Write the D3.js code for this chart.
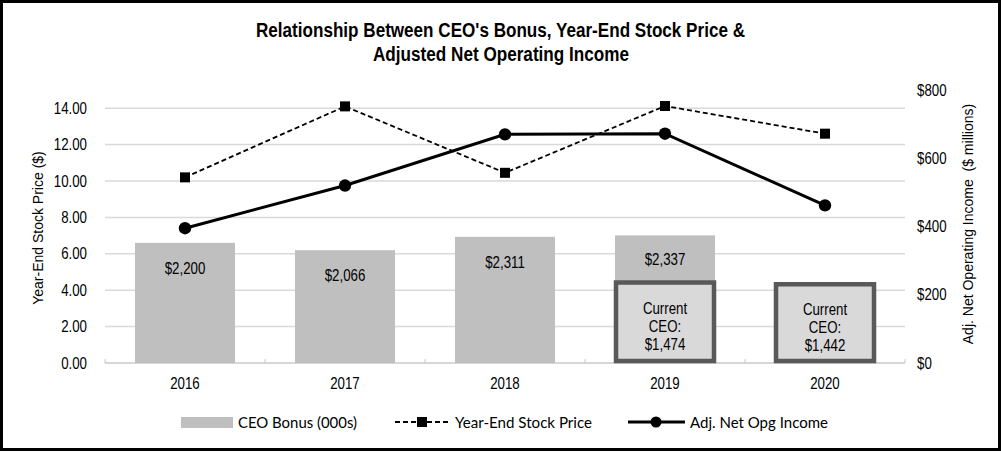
<!DOCTYPE html>
<html>
<head>
<meta charset="utf-8">
<script src="https://cdn.jsdelivr.net/npm/d3@7"></script>
<style>
body { margin: 0; background: #fff; }
text { font-family: "Liberation Sans", Arial, sans-serif; fill: #000; }
</style>
</head>
<body>
<script>
// chart data
var years = ["2016", "2017", "2018", "2019", "2020"];
var bonus = [2200, 2066, 2311, 2337, null];        // CEO bonus (000s)
var currentCeo = [null, null, null, 1474, 1442];    // current CEO bonus (000s)
var stockPrice = [10.2, 14.1, 10.45, 14.12, 12.6];  // year-end stock price ($)
var netIncome = [395, 520, 670, 672, 462];          // adj. net operating income ($M)
var leftTicks = [0, 2, 4, 6, 8, 10, 12, 14];
var rightTicks = [0, 200, 400, 600, 800];

var W = 1001, H = 452;
var SQ = 0.83; // the source text looks horizontally squeezed

var svg = d3.select("body").append("svg")
	.attr("width", W)
	.attr("height", H);

// draws text squeezed horizontally around its own x
var sqText = function(parent, x, y, str, size, anchor)
{
	return parent.append("text")
		.attr("transform", "translate(" + x + "," + y + ") scale(" + SQ + ",1)")
		.attr("text-anchor", anchor || "start")
		.style("font-size", size + "px")
		.text(str);
};

svg.append("rect")
	.attr("x", 1.5).attr("y", 1.5)
	.attr("width", W - 3).attr("height", H - 4)
	.attr("fill", "#fff")
	.attr("stroke", "#000")
	.attr("stroke-width", 3);

var x = d3.scaleBand()
	.domain(years)
	.range([105, 905])
	.paddingInner(0.375)
	.paddingOuter(0.1875);
var yLeft = d3.scaleLinear().domain([0, 15]).range([363, 90]);
var yRight = d3.scaleLinear().domain([0, 800]).range([363, 90]);
var yBonus = d3.scaleLinear().domain([0, 5000]).range([363, 90]);
var cx = function(i) { return x(years[i]) + x.bandwidth() / 2; };

// title
var title = svg.append("g");
title.append("text")
	.attr("x", 256).attr("y", 37)
	.attr("textLength", 489)
	.attr("lengthAdjust", "spacingAndGlyphs")
	.style("font-size", "19.5px")
	.style("font-weight", "bold")
	.text("Relationship Between CEO's Bonus, Year-End Stock Price &");
title.append("text")
	.attr("x", 373).attr("y", 61)
	.attr("textLength", 256)
	.attr("lengthAdjust", "spacingAndGlyphs")
	.style("font-size", "19.5px")
	.style("font-weight", "bold")
	.text("Adjusted Net Operating Income");

// gridlines
svg.append("g")
	.selectAll("line")
	.data(leftTicks.slice(1))
	.enter().append("line")
	.attr("x1", 105).attr("x2", 905)
	.attr("y1", function(d) { return yLeft(d); })
	.attr("y2", function(d) { return yLeft(d); })
	.attr("stroke", "#d9d9d9")
	.attr("stroke-width", 1.5);

// bottom axis
var xAxis = svg.append("g");
xAxis.append("line")
	.attr("x1", 105).attr("x2", 905)
	.attr("y1", 363).attr("y2", 363)
	.attr("stroke", "#c8c8c8")
	.attr("stroke-width", 1.5);
xAxis.selectAll("line.tick")
	.data(d3.range(years.length + 1))
	.enter().append("line")
	.attr("class", "tick")
	.attr("x1", function(i) { return 105 + i * x.step(); })
	.attr("x2", function(i) { return 105 + i * x.step(); })
	.attr("y1", 363).attr("y2", 359)
	.attr("stroke", "#c8c8c8")
	.attr("stroke-width", 1);
years.forEach(function(d, i) {
	sqText(xAxis, cx(i), 389, d, 16, "middle");
});

// left ticks
var leftAxis = svg.append("g");
leftTicks.forEach(function(d) {
	sqText(leftAxis, 87, yLeft(d) + 5.5, d3.format(".2f")(d), 16, "end");
});

// right ticks
var rightAxis = svg.append("g");
rightTicks.forEach(function(d) {
	sqText(rightAxis, 917, yRight(d) + 5.5, "$" + d, 16, "start");
});

// axis titles
svg.append("text")
	.attr("transform", "translate(43,228) rotate(-90)")
	.attr("text-anchor", "middle")
	.style("font-size", "14px")
	.text("Year-End Stock Price ($)");
svg.append("text")
	.attr("transform", "translate(973,224) rotate(-90)")
	.attr("text-anchor", "middle")
	.style("font-size", "14px")
	.style("white-space", "pre")
	.text("Adj. Net Operating Income  ($ millions)");

// bonus bars
var bars = svg.append("g");
bonus.forEach(function(v, i) {
	if (v == null) { return; }
	bars.append("rect")
		.attr("x", x(years[i]))
		.attr("y", yBonus(v))
		.attr("width", x.bandwidth())
		.attr("height", yBonus(0) - yBonus(v))
		.attr("fill", "#bfbfbf");
});

// current CEO boxes
currentCeo.forEach(function(v, i) {
	if (v == null) { return; }
	bars.append("rect")
		.attr("x", x(years[i]) + 1)
		.attr("y", yBonus(v))
		.attr("width", x.bandwidth() - 2)
		.attr("height", yBonus(0) - yBonus(v) - 2)
		.attr("fill", "#d9d9d9")
		.attr("stroke", "#595959")
		.attr("stroke-width", 4.5);
	var mid = (yBonus(v) + yBonus(0)) / 2 + 4;
	var lines = ["Current", "CEO:", "$" + d3.format(",")(v)];
	lines.forEach(function(t, k) {
		sqText(bars, cx(i), mid + (k - 1) * 18 + 5, t, 16, "middle");
	});
});

// bar labels
bonus.forEach(function(v, i) {
	if (v == null) { return; }
	var ty = yBonus(v) + 31;
	if (currentCeo[i] != null) {
		ty = (yBonus(v) + yBonus(currentCeo[i])) / 2 + 6;
	}
	sqText(bars, cx(i), ty, "$" + d3.format(",")(v), 16, "middle");
});

// stock price line
var stockLine = d3.line()
	.x(function(d, i) { return cx(i); })
	.y(function(d) { return yLeft(d); });
svg.append("path")
	.attr("d", stockLine(stockPrice))
	.attr("fill", "none")
	.attr("stroke", "#000")
	.attr("stroke-width", 1.8)
	.attr("stroke-dasharray", "5,3");
svg.append("g")
	.selectAll("rect")
	.data(stockPrice)
	.enter().append("rect")
	.attr("x", function(d, i) { return cx(i) - 5; })
	.attr("y", function(d) { return yLeft(d) - 5; })
	.attr("width", 10).attr("height", 10)
	.attr("fill", "#000");

// net income line
var incomeLine = d3.line()
	.x(function(d, i) { return cx(i); })
	.y(function(d) { return yRight(d); });
svg.append("path")
	.attr("d", incomeLine(netIncome))
	.attr("fill", "none")
	.attr("stroke", "#000")
	.attr("stroke-width", 3);
svg.append("g")
	.selectAll("circle")
	.data(netIncome)
	.enter().append("circle")
	.attr("cx", function(d, i) { return cx(i); })
	.attr("cy", function(d) { return yRight(d); })
	.attr("r", 6.2)
	.attr("fill", "#000");

// legend
var legFont = "Lato, 'Open Sans', sans-serif";
var leg = svg.append("g");
var legText = function(xp, str, len)
{
	leg.append("text")
		.attr("x", xp).attr("y", 428)
		.attr("textLength", len)
		.attr("lengthAdjust", "spacingAndGlyphs")
		.style("font-family", legFont)
		.style("font-size", "16px")
		.text(str);
};
leg.append("rect")
	.attr("x", 181).attr("y", 417)
	.attr("width", 52).attr("height", 11)
	.attr("fill", "#bfbfbf");
legText(238, "CEO Bonus (000s)", 119);

leg.append("line")
	.attr("x1", 395).attr("x2", 449)
	.attr("y1", 422).attr("y2", 422)
	.attr("stroke", "#000")
	.attr("stroke-width", 1.8)
	.attr("stroke-dasharray", "5,3");
leg.append("rect")
	.attr("x", 417).attr("y", 417)
	.attr("width", 10).attr("height", 10)
	.attr("fill", "#000");
legText(455, "Year-End Stock Price", 137);

leg.append("line")
	.attr("x1", 628).attr("x2", 685)
	.attr("y1", 422).attr("y2", 422)
	.attr("stroke", "#000")
	.attr("stroke-width", 3);
leg.append("circle")
	.attr("cx", 656).attr("cy", 422)
	.attr("r", 5.5)
	.attr("fill", "#000");
legText(690, "Adj. Net Opg Income", 138);
</script>
</body>
</html>
